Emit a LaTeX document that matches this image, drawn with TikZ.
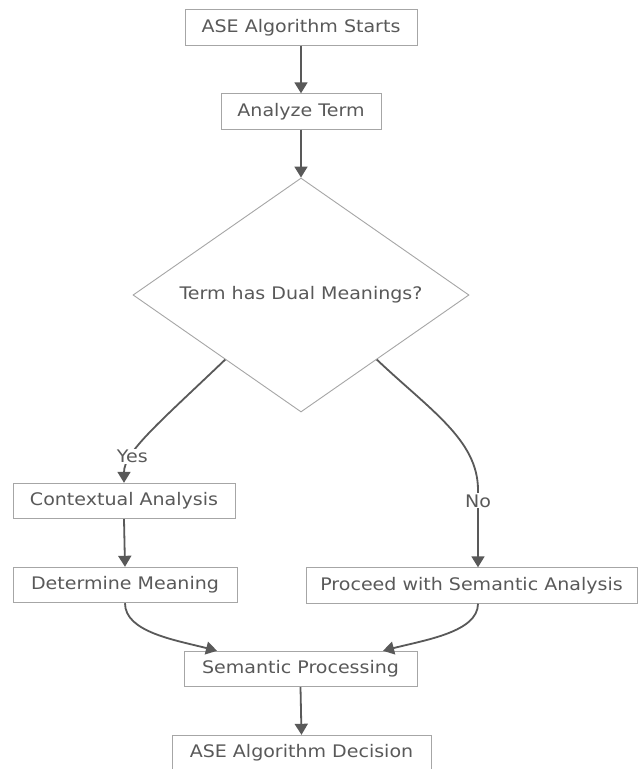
\documentclass[tikz,border=0pt]{standalone}
\usepackage{fontspec}
\setmainfont{DejaVu Sans}[FakeStretch=1.1]
\usetikzlibrary{arrows.meta,shapes.geometric,calc}
\definecolor{boxline}{HTML}{A6A6A6}
\definecolor{edgecol}{HTML}{595959}
\definecolor{txt}{HTML}{595959}
\begin{document}
\begin{tikzpicture}[x=1pt,y=-1pt,
  every node/.style={font=\fontsize{17.3}{19}\selectfont, text=txt},
  procbox/.style={draw=boxline, line width=0.9pt, fill=white, inner sep=0pt, minimum height=35.5pt},
  decbox/.style={diamond, draw=boxline, line width=0.9pt, fill=white, inner sep=0pt, minimum width=336pt, minimum height=234pt, shape aspect=1.436},
  flow/.style={draw=edgecol, line width=1.8pt, -{Triangle[length=11pt,width=13pt]}},
  lbl/.style={fill=white, inner sep=1pt}]
\useasboundingbox (0,0) rectangle (639,769);
\fill[white] (0,0) rectangle (639,769);

\node[procbox, minimum width=232pt] (start) at (301,27.5) {ASE Algorithm Starts};
\node[procbox, minimum width=160pt] (analyze) at (301,111.5) {Analyze Term};
\node[decbox] (dec) at (301,295) {Term has Dual Meanings?};
\node[procbox, minimum width=222pt] (context) at (124,501) {Contextual Analysis};
\node[procbox, minimum width=224pt] (determine) at (125,585) {Determine Meaning};
\node[procbox, minimum width=331pt] (proceed) at (471.5,585.5) {Proceed with Semantic Analysis};
\node[procbox, minimum width=233pt] (semantic) at (300.5,669) {Semantic Processing};
\node[procbox, minimum width=259pt] (decision) at (301.5,753) {ASE Algorithm Decision};

\draw[flow] (start.south) -- (analyze.north);
\draw[flow] (analyze.south) -- (dec.north);
\draw[flow] ($(dec.south)!0.45!(dec.west)$) .. controls (160,422) and (124,452) .. (context.north)
  node[lbl, pos=0.72] {Yes};
\draw[flow] ($(dec.south)!0.45!(dec.east)$) .. controls (430,410) and (478,440) .. (478,490)
  -- (proceed.north -| 478,0) node[lbl, pos=0.14] {No};
\draw[flow] (context.south) -- (determine.north);
\draw[flow] (determine.south) .. controls (125,632) and (175,640) .. (semantic.north -| 217,0);
\draw[flow] (proceed.south -| 478,0) .. controls (478,632) and (425,640) .. (semantic.north -| 383,0);
\draw[flow] (semantic.south) -- (decision.north);
\end{tikzpicture}
\end{document}
